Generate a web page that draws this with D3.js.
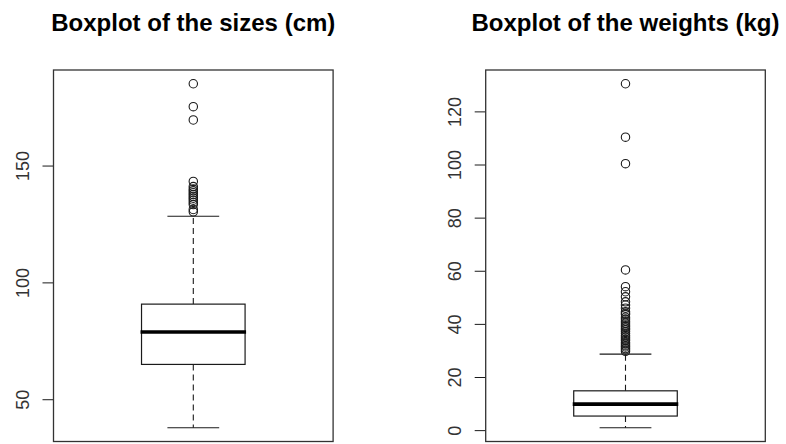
<!DOCTYPE html>
<html>
<head>
<meta charset="utf-8">
<script src="https://cdn.jsdelivr.net/npm/d3@7"></script>
<style>
  html, body { margin: 0; padding: 0; background: #fff; }
  svg { display: block; }
  text { font-family: "Liberation Sans", Arial, sans-serif; }
</style>
</head>
<body>
<svg id="chart" width="786" height="444"></svg>
<script>
// Five-number summaries (lower whisker, Q1, median, Q3, upper whisker)
const sizeStats = [37.8, 64.9, 78.8, 90.7, 128.3];
const weightStats = [0.9, 5.3, 9.8, 14.8, 28.6];

// Observations beyond the whiskers
const sizeOutliers = [185, 175.2, 169.5, 143.2, 141, 140, 139.2, 138.4, 137.6, 136.8,
  136, 135.2, 134.2, 133.3, 131.2, 130.2];
const weightOutliers = [130.4, 110.3, 100.3, 60.3, 54, 52.1, 50.2, 48.3, 47.1, 45.9,
  44.6, 44, 43.5, 42.5, 41.8, 41, 40.3, 39.6, 39, 38.4, 37.8, 37.1, 36.4, 35.6,
  35, 34.3, 33.7, 33, 32.4, 31.8, 31.3, 30.7, 30.2, 29.6];

// Axis tick values
const sizeTicks = [50, 100, 150];
const weightTicks = [0, 20, 40, 60, 80, 100, 120];

const titles = ["Boxplot of the sizes (cm)", "Boxplot of the weights (kg)"];

const panels = [
  { title: titles[0], stats: sizeStats, outliers: sizeOutliers, ticks: sizeTicks, left: 53.5 },
  { title: titles[1], stats: weightStats, outliers: weightOutliers, ticks: weightTicks, left: 485.7 }
];

const svg = d3.select("#chart");
const plotW = 279.6, plotTop = 70, plotBottom = 441.5;
const ink = "#1a1a1a";

panels.forEach(p => {
  const lo = Math.min(p.stats[0], d3.min(p.outliers));
  const hi = Math.max(p.stats[4], d3.max(p.outliers));
  const pad = (hi - lo) * 0.04;
  const y = d3.scaleLinear().domain([lo - pad, hi + pad]).range([plotBottom, plotTop]);
  const x = d3.scaleLinear().domain([0.46, 1.54]).range([p.left, p.left + plotW]);

  const g = svg.append("g");

  // title
  svg.append("text")
    .attr("x", p.left + plotW / 2)
    .attr("y", 31)
    .attr("text-anchor", "middle")
    .attr("font-size", 24)
    .attr("font-weight", "bold")
    .attr("fill", "#000")
    .text(p.title);

  // y axis with rotated labels
  const axis = d3.axisLeft(y).tickValues(p.ticks).tickSize(11).tickPadding(0).tickFormat(d3.format("d"));
  const ag = g.append("g").attr("transform", `translate(${p.left},0)`).call(axis);
  ag.select(".domain").remove();
  ag.selectAll(".tick line").attr("stroke", ink).attr("stroke-width", 1);
  ag.selectAll(".tick text")
    .attr("x", null).attr("dy", null)
    .attr("transform", "translate(-24.5,0) rotate(-90)")
    .attr("text-anchor", "middle")
    .attr("font-size", 18)
    .attr("fill", "#333")
    .attr("font-family", "'Liberation Sans', Arial, sans-serif");

  const [wLo, q1, med, q3, wHi] = p.stats;

  // dashed whiskers
  g.append("line").attr("x1", x(1)).attr("x2", x(1)).attr("y1", y(q3)).attr("y2", y(wHi))
    .attr("stroke", ink).attr("stroke-width", 1.1).attr("stroke-dasharray", "6,4");
  g.append("line").attr("x1", x(1)).attr("x2", x(1)).attr("y1", y(q1)).attr("y2", y(wLo))
    .attr("stroke", ink).attr("stroke-width", 1.1).attr("stroke-dasharray", "6,4");

  // whisker caps
  [wLo, wHi].forEach(v => {
    g.append("line").attr("x1", x(0.9)).attr("x2", x(1.1)).attr("y1", y(v)).attr("y2", y(v))
      .attr("stroke", ink).attr("stroke-width", 1.2);
  });

  // box
  g.append("rect")
    .attr("x", x(0.8)).attr("width", x(1.2) - x(0.8))
    .attr("y", y(q3)).attr("height", y(q1) - y(q3))
    .attr("fill", "none").attr("stroke", ink).attr("stroke-width", 1.2);

  // median
  g.append("line").attr("x1", x(0.8) - 1).attr("x2", x(1.2) + 1).attr("y1", y(med)).attr("y2", y(med))
    .attr("stroke", "#000").attr("stroke-width", 3.6);

  // outliers
  g.selectAll("circle.out").data(p.outliers).join("circle")
    .attr("class", "out")
    .attr("cx", x(1)).attr("cy", d => y(d)).attr("r", 4.2)
    .attr("fill", "none").attr("stroke", ink).attr("stroke-width", 1.1);

  // frame
  g.append("rect")
    .attr("x", p.left).attr("y", plotTop).attr("width", plotW).attr("height", plotBottom - plotTop)
    .attr("fill", "none").attr("stroke", "#333").attr("stroke-width", 1.3);
});
</script>
</body>
</html>
